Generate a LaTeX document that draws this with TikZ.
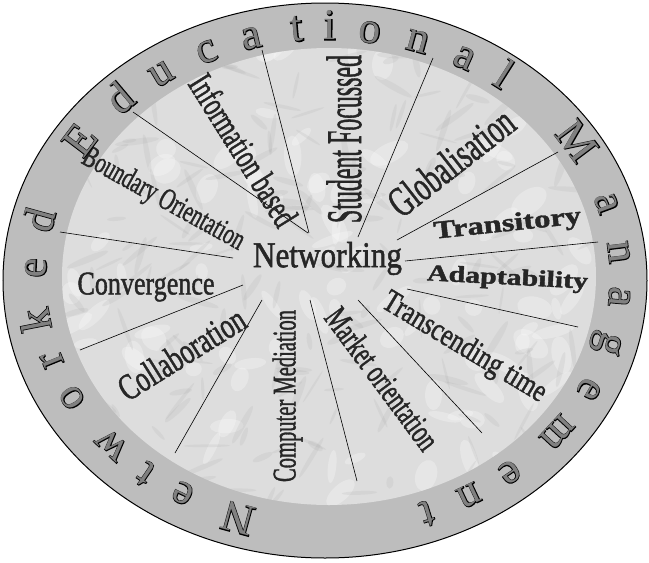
\documentclass[tikz,border=0pt]{standalone}
\usepackage{fontspec}
\usepackage{graphicx}
\setmainfont{Liberation Serif}
\newfontfamily\lblfont[FakeBold=1.5]{Liberation Serif}
\newfontfamily\ringfont{Liberation Serif}
\newfontfamily\ringedgefont[FakeBold=3]{Liberation Serif}

\definecolor{ringgray}{HTML}{BDBDBD}
\definecolor{marble}{HTML}{DDDDDD}
\definecolor{ringink}{HTML}{808080}

% fit a label to the size it has in the picture
\newcommand{\fitlabel}[3]{\resizebox*{#1pt}{#2pt}{#3}}

\tikzset{
  spoke/.style={black, line width=0.6pt},
  wordlbl/.style={inner sep=0pt, text=black!85, font=\lblfont},
  ringedge/.style={inner sep=0pt, anchor=base, text=black, font={\ringedgefont\fontsize{44}{44}\selectfont}},
  ringltr/.style={inner sep=0pt, anchor=base, text=ringink, font={\ringfont\fontsize{44}{44}\selectfont}},
}

\begin{document}
\begin{tikzpicture}[x=1pt, y=-1pt]
	\useasboundingbox (0,0) rectangle (649,563);
	% Define the two rings
	\draw[line width=1pt, fill=ringgray] (325,280.5) ellipse [x radius=322pt, y radius=277.5pt];
	\fill[marble] (329,276.5) ellipse [x radius=267pt, y radius=228.5pt];
	% Marble grain
	\begin{scope}
		\clip (329,276.5) ellipse [x radius=267pt, y radius=228.5pt];
		\pgfmathsetseed{11}
		\foreach \k in {1,...,120}{
			\fill[white, opacity=0.28] ({62+534*rnd},{48+457*rnd}) ellipse [x radius={8pt+14pt*rnd}, y radius={4pt+8pt*rnd}, rotate={180*rnd}];}
		\foreach \k in {1,...,220}{
			\fill[gray!70, opacity=0.16] ({62+534*rnd},{48+457*rnd}) ellipse [x radius={6pt+18pt*rnd}, y radius={1pt+2.5pt*rnd}, rotate={180*rnd}];}
	\end{scope}
	% Spokes from the hub to the rim
	\foreach \i/\hx/\hy/\rx/\ry in {1/308/233/133/112, 2/309/233/262/50, 3/233/258/60/232,
		4/243/285/80/350, 5/262/300/175/453, 6/310/300/357/481, 7/358/300/482/433,
		8/407/289/578/327, 9/405/261/598/242, 10/397/240/558/152, 11/358/237/433/58}{
		\coordinate (hub\i) at (\hx,\hy);
		\coordinate (rim\i) at (\rx,\ry);
		\draw[spoke] (hub\i) -- (rim\i);}
	% Labels of the sectors
	\node[wordlbl] (networking) at (327.5,258.5) {\fitlabel{149}{33}{Networking}};
	\node[wordlbl, rotate=-29] (boundary) at (163,200) {\fitlabel{181}{28}{Boundary Orientation}};
	\node[wordlbl, rotate=-58] (information) at (243.5,150) {\fitlabel{172}{26}{Information based}};
	\node[wordlbl, rotate=90] (student) at (344,139) {\fitlabel{168}{35}{Student Focussed}};
	\node[wordlbl, rotate=38] (global) at (451,162) {\fitlabel{148}{30}{Globalisation}};
	\node[wordlbl, rotate=6] (transitory) at (507.5,225) {\fitlabel{148}{23}{\bfseries Transitory}};
	\node[wordlbl, rotate=-3] (adapt) at (507.5,279) {\fitlabel{161}{21}{\bfseries Adaptability}};
	\node[wordlbl, rotate=-31] (transcend) at (464,348) {\fitlabel{186}{29}{Transcending time}};
	\node[wordlbl, rotate=-53.5] (market) at (382.5,378.5) {\fitlabel{168}{24}{Market orientation}};
	\node[wordlbl, rotate=90] (computer) at (287.5,396) {\fitlabel{172}{30}{Computer Mediation}};
	\node[wordlbl, rotate=32] (collab) at (181.5,353.5) {\fitlabel{143}{26}{Collaboration}};
	\node[wordlbl] (converge) at (146,287) {\fitlabel{137}{29}{Convergence}};
	% Letters round the ring
	\foreach \ch/\t [count=\i] in {N/-107.8, e/-119.9, t/-128.6, w/-137.9, o/-151.3, r/-160.9,
		k/-170.5, e/177.7, d/166.8, E/147.1, d/134.8, u/124.9, c/114.6, a/105.3, t/96.1,
		i/89.6, o/81.7, n/72.0, a/62.1, l/53.3, M/32.6, a/17.4, n/5.9, a/-4.3, g/-15.3,
		e/-26.5, m/-38.2, e/-51.4, n/-61.0, t/-70.2}{
		\node[ringedge, rotate={atan2(294*sin(\t),250*cos(\t))-90}] at ({328+282*cos(\t)},{278-238*sin(\t)}) {\ch};
		\node[ringltr, rotate={atan2(294*sin(\t),250*cos(\t))-90}] (ring\i) at ({328+282*cos(\t)},{278-238*sin(\t)}) {\ch};}
\end{tikzpicture}
\end{document}
